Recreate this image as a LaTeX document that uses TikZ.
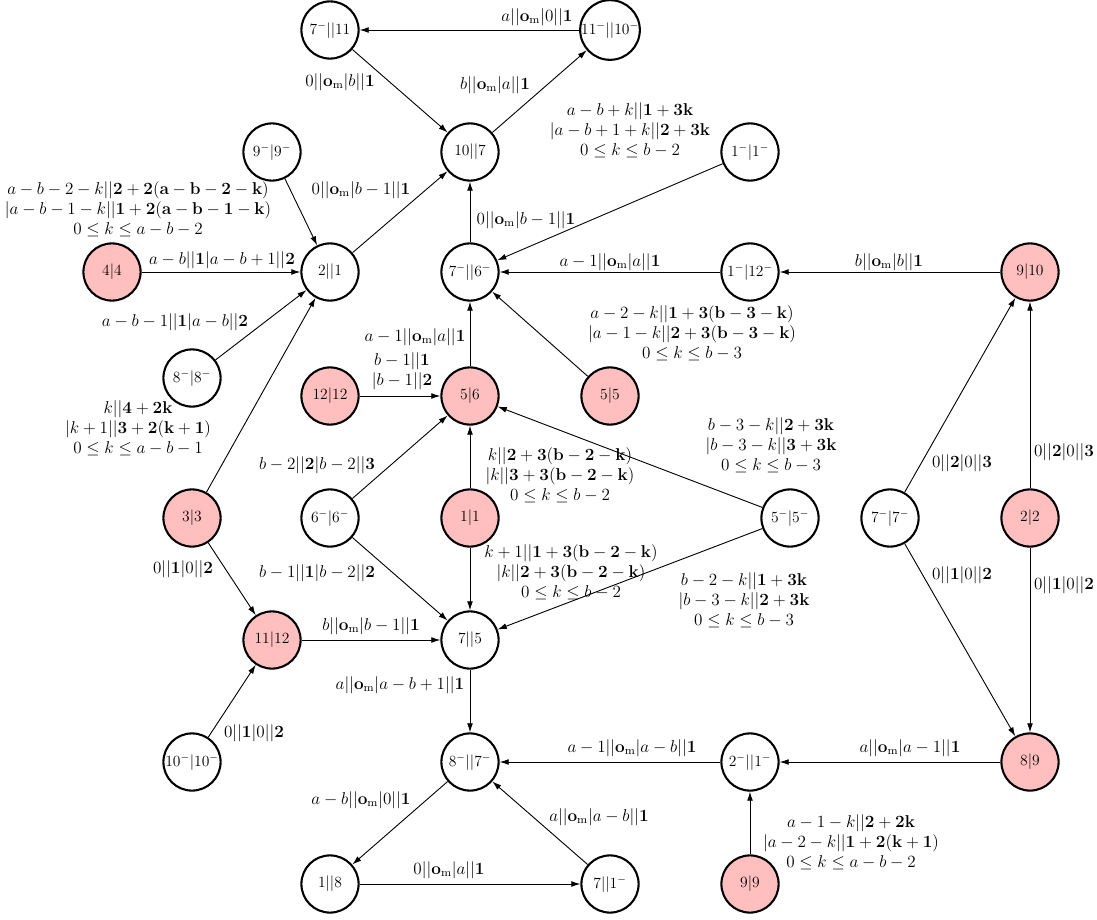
\documentclass[tikz,border=0pt]{standalone}
\usepackage{amsmath}
\usepackage{tikz}
\usetikzlibrary{arrows.meta}
\def\om{\mathbf{o}_{\mathrm{m}}}

\begin{document}
\begin{tikzpicture}[x=0.0271cm, y=-0.0271cm,
	state/.style={circle, draw, line width=1.6pt, minimum size=1.55cm, inner sep=0pt, font=\fontsize{12}{14}\selectfont},
	hit/.style={state, fill=red!25},
	arr/.style={-{Latex[length=7pt,width=4.5pt]}, line width=0.7pt},
	lab/.style={align=center, scale=1.1, font=\fontsize{12}{14}\selectfont}]
	%%%%% START %%%%%
	\useasboundingbox (0, 0) rectangle (1097, 920);
	
	% states
	\node[state] (s711) at (330, 30) {$7^-||11$};
	\node[state] (s1110) at (610, 30) {$11^-||10^-$};
	\node[state] (s107) at (470, 152) {$10||7$};
	\node[state] (s99m) at (272, 152) {$9^-|9^-$};
	\node[state] (s11m) at (750, 152) {$1^-|1^-$};
	\node[hit] (s44) at (112, 272) {$4|4$};
	\node[state] (s21) at (330, 272) {$2||1$};
	\node[state] (s76) at (470, 272) {$7^-||6^-$};
	\node[state] (s112) at (750, 272) {$1^-|12^-$};
	\node[hit] (s910) at (1030, 272) {$9|10$};
	\node[state] (s88m) at (192, 378) {$8^-|8^-$};
	\node[hit] (s1212) at (330, 396) {$12|12$};
	\node[hit] (s56) at (470, 396) {$5|6$};
	\node[hit] (s55) at (610, 396) {$5|5$};
	\node[hit] (s33) at (192, 518) {$3|3$};
	\node[state] (s66m) at (330, 518) {$6^-|6^-$};
	\node[hit] (s11) at (470, 518) {$1|1$};
	\node[state] (s55m) at (790, 518) {$5^-|5^-$};
	\node[state] (s77m) at (890, 518) {$7^-|7^-$};
	\node[hit] (s22) at (1030, 518) {$2|2$};
	\node[hit] (s1112) at (272, 640) {$11|12$};
	\node[state] (s75) at (470, 640) {$7||5$};
	\node[state] (s1010m) at (192, 762) {$10^-|10^-$};
	\node[state] (s87) at (470, 762) {$8^-||7^-$};
	\node[state] (s21m) at (750, 762) {$2^-||1^-$};
	\node[hit] (s89) at (1030, 762) {$8|9$};
	\node[state] (s18) at (330, 884) {$1||8$};
	\node[state] (s71) at (610, 884) {$7||1^-$};
	\node[hit] (s99) at (750, 884) {$9|9$};
	
	% transitions
	\draw[arr] (s1110) -- (s711);
	\draw[arr] (s711) -- (s107);
	\draw[arr] (s107) -- (s1110);
	\draw[arr] (s99m) -- (s21);
	\draw[arr] (s44) -- (s21);
	\draw[arr] (s88m) -- (s21);
	\draw[arr] (s33) -- (s21);
	\draw[arr] (s21) -- (s107);
	\draw[arr] (s11m) -- (s76);
	\draw[arr] (s76) -- (s107);
	\draw[arr] (s112) -- (s76);
	\draw[arr] (s910) -- (s112);
	\draw[arr] (s56) -- (s76);
	\draw[arr] (s55) -- (s76);
	\draw[arr] (s1212) -- (s56);
	\draw[arr] (s66m) -- (s56);
	\draw[arr] (s11) -- (s56);
	\draw[arr] (s55m) -- (s56);
	\draw[arr] (s11) -- (s75);
	\draw[arr] (s55m) -- (s75);
	\draw[arr] (s66m) -- (s75);
	\draw[arr] (s33) -- (s1112);
	\draw[arr] (s1112) -- (s75);
	\draw[arr] (s1010m) -- (s1112);
	\draw[arr] (s75) -- (s87);
	\draw[arr] (s21m) -- (s87);
	\draw[arr] (s87) -- (s18);
	\draw[arr] (s18) -- (s71);
	\draw[arr] (s71) -- (s87);
	\draw[arr] (s89) -- (s21m);
	\draw[arr] (s99) -- (s21m);
	\draw[arr] (s77m) -- (s910);
	\draw[arr] (s77m) -- (s89);
	\draw[arr] (s22) -- (s910);
	\draw[arr] (s22) -- (s89);
	
	% labels
	\node[lab] (l1) at (537, 17) {$a||\om|0||\mathbf{1}$};
	\node[lab] (l2) at (340, 82) {$0||\om|b||\mathbf{1}$};
	\node[lab] (l3) at (495, 85) {$b||\om|a||\mathbf{1}$};
	\node[lab] (l4) at (138, 209) {$a-b-2-k||\mathbf{2+2(a-b-2-k)}$\\$|a-b-1-k||\mathbf{1+2(a-b-1-k)}$\\$0\le k\le a-b-2$};
	\node[lab] (l5) at (222, 260) {$a-b||\mathbf{1}|a-b+1||\mathbf{2}$};
	\node[lab] (l6) at (175, 322) {$a-b-1||\mathbf{1}|a-b||\mathbf{2}$};
	\node[lab] (l7) at (138, 428) {$k||\mathbf{4+2k}$\\$|k+1||\mathbf{3+2(k+1)}$\\$0\le k\le a-b-1$};
	\node[lab] (l8) at (361, 190) {$0||\om|b-1||\mathbf{1}$};
	\node[lab] (l9) at (630, 130) {$a-b+k||\mathbf{1+3k}$\\$|a-b+1+k||\mathbf{2+3k}$\\$0\le k\le b-2$};
	\node[lab] (l10) at (526, 220) {$0||\om|b-1||\mathbf{1}$};
	\node[lab] (l11) at (610, 262) {$a-1||\om|a||\mathbf{1}$};
	\node[lab] (l12) at (889, 262) {$b||\om|b||\mathbf{1}$};
	\node[lab] (l13) at (415, 337) {$a-1||\om|a||\mathbf{1}$};
	\node[lab] (l14) at (692, 333) {$a-2-k||\mathbf{1+3(b-3-k)}$\\$|a-1-k||\mathbf{2+3(b-3-k)}$\\$0\le k\le b-3$};
	\node[lab] (l15) at (402, 371) {$b-1||\mathbf{1}$\\$|b-1||\mathbf{2}$};
	\node[lab] (l16) at (317, 465) {$b-2||\mathbf{2}|b-2||\mathbf{3}$};
	\node[lab] (l17) at (560, 475) {$k||\mathbf{2+3(b-2-k)}$\\$|k||\mathbf{3+3(b-2-k)}$\\$0\le k\le b-2$};
	\node[lab] (l18) at (771, 445) {$b-3-k||\mathbf{2+3k}$\\$|b-3-k||\mathbf{3+3k}$\\$0\le k\le b-3$};
	\node[lab] (l19) at (571, 572) {$k+1||\mathbf{1+3(b-2-k)}$\\$|k||\mathbf{2+3(b-2-k)}$\\$0\le k\le b-2$};
	\node[lab] (l20) at (744, 600) {$b-2-k||\mathbf{1+3k}$\\$|b-3-k||\mathbf{2+3k}$\\$0\le k\le b-3$};
	\node[lab] (l21) at (317, 573) {$b-1||\mathbf{1}|b-2||\mathbf{2}$};
	\node[lab] (l22) at (183, 569) {$0||\mathbf{1}|0||\mathbf{2}$};
	\node[lab] (l23) at (371, 626) {$b||\om|b-1||\mathbf{1}$};
	\node[lab] (l24) at (254, 733) {$0||\mathbf{1}|0||\mathbf{2}$};
	\node[lab] (l25) at (400, 685) {$a||\om|a-b+1||\mathbf{1}$};
	\node[lab] (l26) at (632, 748) {$a-1||\om|a-b||\mathbf{1}$};
	\node[lab] (l27) at (361, 800) {$a-b||\om|0||\mathbf{1}$};
	\node[lab] (l28) at (449, 870) {$0||\om|a||\mathbf{1}$};
	\node[lab] (l29) at (599, 817) {$a||\om|a-b||\mathbf{1}$};
	\node[lab] (l30) at (910, 748) {$a||\om|a-1||\mathbf{1}$};
	\node[lab] (l31) at (851, 842) {$a-1-k||\mathbf{2+2k}$\\$|a-2-k||\mathbf{1+2(k+1)}$\\$0\le k\le a-b-2$};
	\node[lab] (l32) at (962, 463) {$0||\mathbf{2}|0||\mathbf{3}$};
	\node[lab] (l33) at (962, 575) {$0||\mathbf{1}|0||\mathbf{2}$};
	\node[lab] (l34) at (1064, 452) {$0||\mathbf{2}|0||\mathbf{3}$};
	\node[lab] (l35) at (1064, 585) {$0||\mathbf{1}|0||\mathbf{2}$};
	
	%%%%% END %%%%%
\end{tikzpicture}
\end{document}
